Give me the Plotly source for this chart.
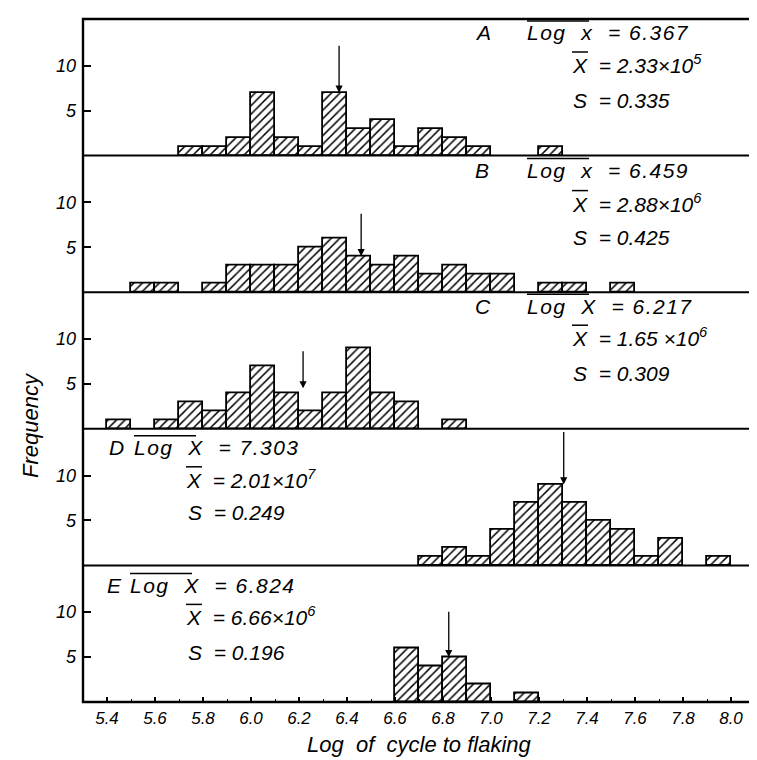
import plotly.graph_objects as go
from plotly.subplots import make_subplots

# ---- data (bin centres of 0.1-wide log-cycle bins, frequencies) ----
panel_names = ["A", "B", "C", "D", "E"]

a_bins = [5.75, 5.85, 5.95, 6.05, 6.15, 6.25, 6.35, 6.45, 6.55, 6.65, 6.75, 6.85, 6.95, 7.25]
a_freq = [1, 1, 2, 7, 2, 1, 7, 3, 4, 1, 3, 2, 1, 1]

b_bins = [5.55, 5.65, 5.85, 5.95, 6.05, 6.15, 6.25, 6.35, 6.45, 6.55, 6.65, 6.75, 6.85, 6.95, 7.05, 7.25, 7.35, 7.55]
b_freq = [1, 1, 1, 3, 3, 3, 5, 6, 4, 3, 4, 2, 3, 2, 2, 1, 1, 1]

c_bins = [5.45, 5.65, 5.75, 5.85, 5.95, 6.05, 6.15, 6.25, 6.35, 6.45, 6.55, 6.65, 6.85]
c_freq = [1, 1, 3, 2, 4, 7, 4, 2, 4, 9, 4, 3, 1]

d_bins = [6.75, 6.85, 6.95, 7.05, 7.15, 7.25, 7.35, 7.45, 7.55, 7.65, 7.75, 7.95]
d_freq = [1, 2, 1, 4, 7, 9, 7, 5, 4, 1, 3, 1]

e_bins = [6.65, 6.75, 6.85, 6.95, 7.15]
e_freq = [6, 4, 5, 2, 1]

mean_log = [6.367, 6.459, 6.217, 7.303, 6.824]
mean_log_txt = ["6.367", "6.459", "6.217", "7.303", "6.824"]
mean_x_txt = ["2.33×10<sup>5</sup>", "2.88×10<sup>6</sup>", "1.65 ×10<sup>6</sup>",
              "2.01×10<sup>7</sup>", "6.66×10<sup>6</sup>"]
s_txt = ["0.335", "0.425", "0.309", "0.249", "0.196"]
# arrow tail / head heights (frequency units)
arrow_tail = [12.4, 8.9, 8.8, 15.0, 10.2]
arrow_head = [7.0, 4.0, 4.5, 9.0, 5.0]

x_ticks = [5.4, 5.6, 5.8, 6.0, 6.2, 6.4, 6.6, 6.8, 7.0, 7.2, 7.4, 7.6, 7.8, 8.0]
x_tick_text = ["5.4", "5.6", "5.8", "6.0", "6.2", "6.4", "6.6", "6.8", "7.0",
               "7.2", "7.4", "7.6", "7.8", "8.0"]
y_ticks = [5, 10]
y_tick_text = ["5", "10"]

all_bins = [a_bins, b_bins, c_bins, d_bins, e_bins]
all_freq = [a_freq, b_freq, c_freq, d_freq, e_freq]

FONT = "Liberation Sans"
W, H = 757, 760
ML, MR, MT, MB = 75, 10, 11, 66
PW, PH = W - ML - MR, H - MT - MB

fig = make_subplots(rows=5, cols=1, shared_xaxes=True, vertical_spacing=0)

for i in range(5):
    fig.add_trace(go.Bar(
        x=all_bins[i], y=all_freq[i], width=0.1,
        marker=dict(color="white", line=dict(color="black", width=1.8),
                    pattern=dict(shape="/", fgcolor="black", bgcolor="white",
                                 size=6, solidity=0.25, fillmode="replace")),
        showlegend=False, hoverinfo="skip"), row=i + 1, col=1)

for i in range(5):
    r = i + 1
    fig.update_yaxes(range=[0, 15.2], tickvals=y_ticks, ticktext=y_tick_text,
                     ticks="inside", ticklen=8, tickwidth=1.5, tickcolor="black",
                     ticklabelstandoff=6,
                     showline=False, showgrid=False, zeroline=False, automargin=False,
                     tickfont=dict(family=FONT, size=18, color="black", style="italic"),
                     row=r, col=1)
    fig.update_xaxes(range=[5.3, 8.1], showline=False, showgrid=False, zeroline=False,
                     automargin=False, row=r, col=1)
    if r < 5:
        fig.update_xaxes(ticks="", showticklabels=False, row=r, col=1)
fig.update_xaxes(tickvals=x_ticks, ticktext=x_tick_text, ticks="inside", ticklen=5,
                 tickwidth=1.5, tickcolor="black", showticklabels=True,
                 ticklabelstandoff=4,
                 tickfont=dict(family=FONT, size=17, color="black", style="italic"),
                 minor=dict(dtick=0.1, tick0=5.3, ticks="inside", ticklen=3,
                            tickcolor="black", tickwidth=1, showgrid=False),
                 row=5, col=1)

def px_to_paper(px, py):
    return (px - ML) / PW, (H - MB - py) / PH

# frame and panel separators
shapes = [dict(type="rect", xref="paper", yref="paper", x0=0, x1=1, y0=0, y1=1,
               line=dict(color="black", width=2.4), layer="above")]
for k in range(1, 5):
    shapes.append(dict(type="line", xref="paper", yref="paper", x0=0, x1=1,
                       y0=k / 5, y1=k / 5, line=dict(color="black", width=2), layer="above"))

# text blocks: pixel positions (left x, centre y) for each panel
panel_tops = [MT + i * PH / 5 for i in range(5)]
layout_pos = [
    dict(letter=465, log=517, xbar=562, s=563, rows=(14, 45, 82)),
    dict(letter=465, log=517, xbar=562, s=563, rows=(15, 47, 82)),
    dict(letter=465, log=517, xbar=562, s=563, rows=(14, 45, 81)),
    dict(letter=99, log=124, xbar=176, s=178, rows=(19, 50, 84)),
    dict(letter=97, log=120, xbar=176, s=178, rows=(20, 51, 87)),
]
OL_LOG = 62   # overline length over "Log x"
OL_X = 16     # overline length over "X"
tfont = dict(family=FONT, size=21, color="black", style="italic")
log_word = ["x", "x", "X", "X", "X"]
NB = "\u00a0"

annotations = []
for i in range(5):
    p = layout_pos[i]
    top = panel_tops[i]
    y1, y2, y3 = (top + d for d in p["rows"])
    row1 = (f'<span style="letter-spacing:1.5px">Log{NB*2}{log_word[i]}{NB*2}={NB}'
            f'{mean_log_txt[i]}</span>')
    for px, py, txt in [(p["letter"], y1, panel_names[i]),
                        (p["log"], y1, row1),
                        (p["xbar"], y2, f"X{NB*2}={NB}{mean_x_txt[i]}"),
                        (p["s"], y3, f"S{NB*2}={NB}{s_txt[i]}")]:
        xp, yp = px_to_paper(px, py)
        annotations.append(dict(x=xp, y=yp, xref="paper", yref="paper", text=txt,
                                showarrow=False, xanchor="left", yanchor="middle",
                                font=tfont))
    # overlines
    for xa, ln, py in [(p["log"] + 2, OL_LOG, y1 - 12), (p["xbar"] + 2, OL_X, y2 - 12)]:
        xa_p, ya_p = px_to_paper(xa, py)
        xb_p, _ = px_to_paper(xa + ln, py)
        shapes.append(dict(type="line", xref="paper", yref="paper", x0=xa_p, x1=xb_p,
                           y0=ya_p, y1=ya_p, line=dict(color="black", width=1.5)))
    # arrow at mean log
    xr = "x" if i == 0 else f"x{i + 1}"
    yr = "y" if i == 0 else f"y{i + 1}"
    annotations.append(dict(x=mean_log[i], y=arrow_head[i], ax=mean_log[i], ay=arrow_tail[i],
                            xref=xr, yref=yr, axref=xr, ayref=yr, text="", showarrow=True,
                            arrowhead=2, arrowsize=1.1, arrowwidth=1.3, arrowcolor="black",
                            standoff=0))

# axis titles
xt, yt = px_to_paper(411, 736)
annotations.append(dict(x=xt, y=yt, xref="paper", yref="paper",
                        text=f"Log{NB*2}of{NB*2}cycle to flaking", showarrow=False,
                        xanchor="center", yanchor="middle",
                        font=dict(family=FONT, size=22, color="black", style="italic")))
xt, yt = px_to_paper(22, 417)
annotations.append(dict(x=xt, y=yt, xref="paper", yref="paper", text="Frequency",
                        textangle=-90, showarrow=False, xanchor="center", yanchor="middle",
                        font=dict(family=FONT, size=22, color="black", style="italic")))

fig.update_layout(template="none", width=W, height=H,
                  margin=dict(l=ML, r=MR, t=MT, b=MB, autoexpand=False),
                  plot_bgcolor="white", paper_bgcolor="white", bargap=0,
                  annotations=annotations, shapes=shapes)

fig.write_html("out.html")
